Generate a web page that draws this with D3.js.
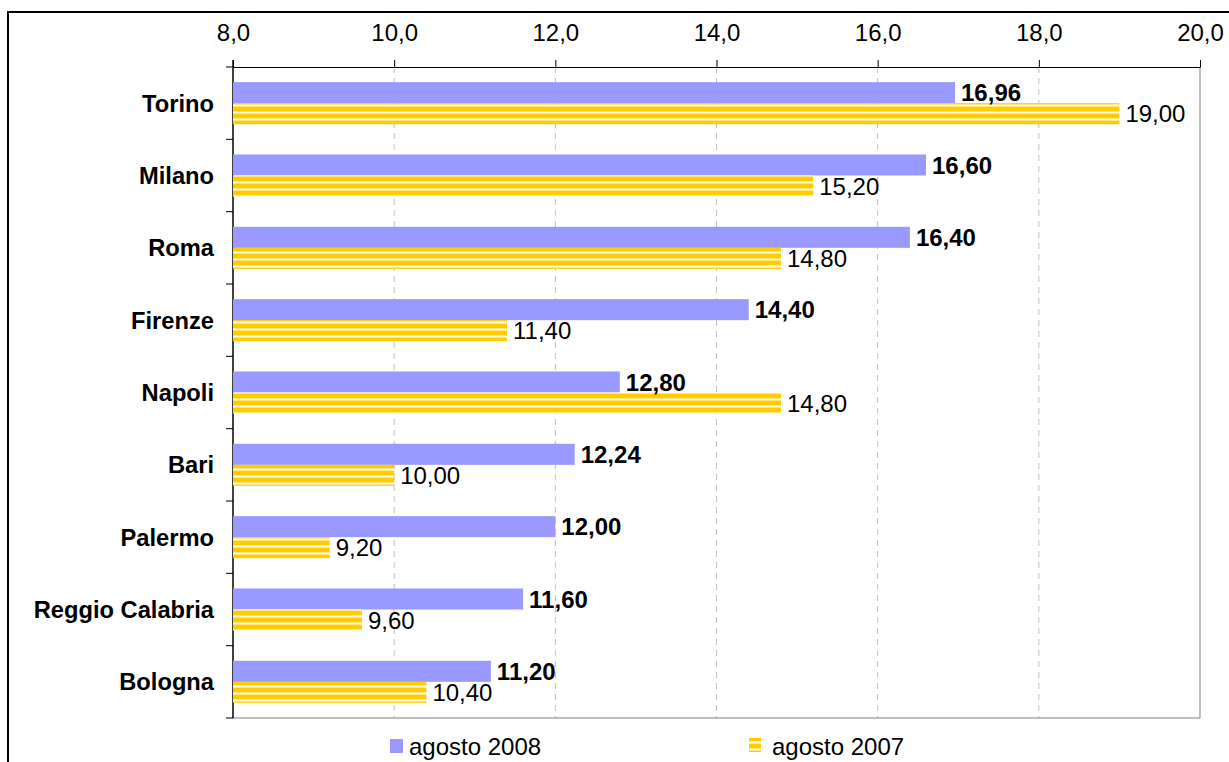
<!DOCTYPE html>
<html>
<head>
<meta charset="utf-8">
<script src="https://d3js.org/d3.v7.min.js"></script>
<style>
  body { margin: 0; background: #fff; }
  svg { font-family: Arial, "Liberation Sans", sans-serif; }
</style>
</head>
<body>
<div class="canva"></div>
<script>
const cities = ['Torino', 'Milano', 'Roma', 'Firenze', 'Napoli', 'Bari', 'Palermo', 'Reggio Calabria', 'Bologna'];
const ago2008 = [16.96, 16.60, 16.40, 14.40, 12.80, 12.24, 12.00, 11.60, 11.20];
const ago2007 = [19.00, 15.20, 14.80, 11.40, 14.80, 10.00, 9.20, 9.60, 10.40];
const ticks = [8, 10, 12, 14, 16, 18, 20];

const fmt = (v, n) => v.toFixed(n).replace('.', ',');

const svg = d3.select('.canva').append('svg')
    .attr('width', 1229)
    .attr('height', 762);

// stripe pattern for 2007
const defs = svg.append('defs');
const pat = defs.append('pattern')
    .attr('id', 'stripes')
    .attr('patternUnits', 'userSpaceOnUse')
    .attr('width', 10).attr('height', 7);
pat.append('rect').attr('width', 10).attr('height', 7).attr('fill', '#fffbe6');
pat.append('rect').attr('y', 1).attr('width', 10).attr('height', 1).attr('fill', '#ffe680');
pat.append('rect').attr('y', 2).attr('width', 10).attr('height', 4).attr('fill', '#ffcc00');
pat.append('rect').attr('y', 6).attr('width', 10).attr('height', 1).attr('fill', '#ffe680');

// outer frame (clipped on right/bottom)
svg.append('path')
    .attr('d', 'M8,762 V12 H1229')
    .attr('fill', 'none')
    .attr('stroke', '#000')
    .attr('stroke-width', 2);

const x = d3.scaleLinear().domain([8, 20]).range([233, 1200]);
const y = d3.scaleBand().domain(cities).range([67, 718]);
const inner = d3.scaleBand().domain(['a', 'b']).range([0, y.bandwidth()]).paddingOuter(0.72);

// grid
svg.selectAll('.grid')
    .data(ticks.slice(1, -1))
    .enter().append('line')
    .attr('x1', d => x(d)).attr('x2', d => x(d))
    .attr('y1', 67).attr('y2', 718)
    .attr('stroke', '#c0c0c0')
    .attr('stroke-dasharray', '6,5');

// plot border right/bottom
svg.append('path')
    .attr('d', `M${x(20)},67 V718 H${x(8)}`)
    .attr('fill', 'none')
    .attr('stroke', '#808080');

// top axis
const xAxis = d3.axisTop(x).tickValues(ticks).tickFormat(d => fmt(d, 1)).tickSize(7).tickSizeOuter(0);
const gx = svg.append('g').attr('transform', 'translate(0,67)').call(xAxis);
gx.select('.domain').attr('stroke', '#000');
gx.selectAll('.tick line').attr('stroke', '#000');
gx.selectAll('.tick text')
    .attr('font-size', 24)
    .attr('fill', '#000')
    .attr('y', -26).attr('dy', 0)
    .attr('font-family', 'Arial, "Liberation Sans", sans-serif');

// left axis line with ticks between categories
svg.append('line')
    .attr('x1', 233).attr('x2', 233).attr('y1', 60).attr('y2', 718)
    .attr('stroke', '#000').attr('stroke-width', 1.5);
const bounds = cities.map(c => y(c)).concat([718]);
svg.selectAll('.ytick')
    .data(bounds)
    .enter().append('line')
    .attr('x1', 226).attr('x2', 233)
    .attr('y1', d => d).attr('y2', d => d)
    .attr('stroke', '#000');

// category labels
svg.selectAll('.cat')
    .data(cities)
    .enter().append('text')
    .attr('x', 214)
    .attr('y', d => y(d) + y.bandwidth() / 2)
    .attr('dy', '0.36em')
    .attr('text-anchor', 'end')
    .attr('font-size', 23.7)
    .attr('font-weight', 'bold')
    .text(d => d);

// bars 2008
svg.selectAll('.b8')
    .data(ago2008)
    .enter().append('rect')
    .attr('x', x(8))
    .attr('y', (d, i) => y(cities[i]) + inner('a'))
    .attr('width', d => x(d) - x(8))
    .attr('height', inner.bandwidth())
    .attr('fill', '#9999ff');

// bars 2007
svg.selectAll('.b7')
    .data(ago2007)
    .enter().append('rect')
    .attr('x', x(8))
    .attr('y', (d, i) => y(cities[i]) + inner('b'))
    .attr('width', d => x(d) - x(8))
    .attr('height', inner.bandwidth())
    .attr('fill', 'url(#stripes)');

// value labels
svg.selectAll('.l8')
    .data(ago2008)
    .enter().append('text')
    .attr('x', d => x(d) + 6)
    .attr('y', (d, i) => y(cities[i]) + inner('a') + inner.bandwidth() / 2)
    .attr('dy', '0.36em')
    .attr('font-size', 24)
    .attr('font-weight', 'bold')
    .text(d => fmt(d, 2));

svg.selectAll('.l7')
    .data(ago2007)
    .enter().append('text')
    .attr('x', d => x(d) + 6)
    .attr('y', (d, i) => y(cities[i]) + inner('b') + inner.bandwidth() / 2)
    .attr('dy', '0.36em')
    .attr('font-size', 24)
    .text(d => fmt(d, 2));

// legend
const leg = svg.append('g');
leg.append('rect').attr('x', 390).attr('y', 739).attr('width', 13).attr('height', 14).attr('fill', '#9999ff');
leg.append('text').attr('x', 409).attr('y', 746).attr('dy', '0.36em').attr('font-size', 24).text('agosto 2008');
leg.append('rect').attr('x', 749).attr('y', 738).attr('width', 12).attr('height', 14).attr('fill', 'url(#stripes)');
leg.append('text').attr('x', 772).attr('y', 746).attr('dy', '0.36em').attr('font-size', 24).text('agosto 2007');
</script>
</body>
</html>
